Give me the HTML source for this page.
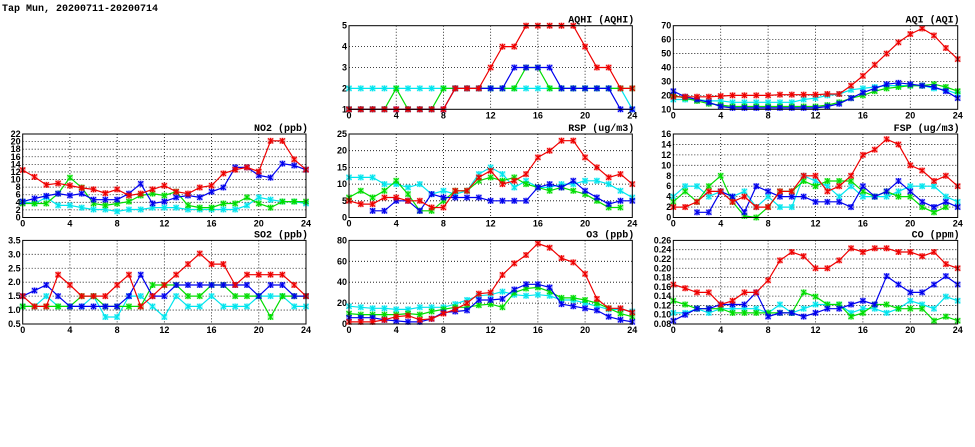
<!DOCTYPE html>
<html><head><meta charset="utf-8"><style>
html,body{margin:0;padding:0;background:#fff;}
svg{display:block;}
text{font-family:"Liberation Sans",sans-serif;font-weight:bold;font-size:9px;fill:#000;}
.t{font-family:"Liberation Mono",monospace;font-size:10px;}
</style></head><body>
<svg id="chart" width="975" height="447" viewBox="0 0 975 447">
<text x="2" y="11" class="t">Tap Mun, 20200711-20200714</text>
</svg>
<script>
const hours = [0,1,2,3,4,5,6,7,8,9,10,11,12,13,14,15,16,17,18,19,20,21,22,23,24];
const seriesColors = ["#00e5ee","#00dd00","#0000ee","#ee0000"];
const N = null;
const aqhiCyan=[2,2,2,2,2,2,2,2,2,2,2,2,2,2,2,2,2,2,2,2,2,2,2,2,1];
const aqhiGreen=[1,1,1,1,2,1,1,1,2,2,2,2,2,2,2,3,3,2,2,2,2,2,2,2,2];
const aqhiBlue=[1,1,1,1,1,1,1,1,1,2,2,2,2,2,3,3,3,3,2,2,2,2,2,1,1];
const aqhiRed=[1,1,1,1,1,1,1,1,1,2,2,2,3,4,4,5,5,5,5,5,4,3,3,2,2];
const aqiCyan=[17,17,17,16,16,15,15,15,15,15,15,17,18,20,21,24,25,26,27,27,27,27,25,24,21];
const aqiGreen=[20,18,16,14,13,12,12,12,12,12,12,12,12,13,15,18,20,23,25,26,27,27,28,26,23];
const aqiBlue=[23,19,17,15,12,11,11,11,11,11,11,11,11,12,14,18,22,25,28,29,28,27,26,23,18];
const aqiRed=[19,19,19,19,19.5,20,20,20,20,20.5,20.5,20.5,20.5,21,21,27,34,42,50,58,64,68,63,54,46];
const no2Cyan=[4.2,3.7,5.3,3.2,3.2,2.6,2.1,2.1,1.6,2.1,2.1,2.6,2.6,2.6,2.1,2.1,2.1,2.1,2.1,3.2,5.3,4.7,4.2,4.2,3.7];
const no2Green=[3.7,3.7,3.7,6.3,10.5,7.9,3.7,3.2,3.7,4.2,5.8,6.3,5.8,6.8,3.2,2.6,2.6,3.7,3.7,5.3,3.7,2.6,4.2,4.2,4.2];
const no2Blue=[4.2,5,5.7,6.3,5.8,6.3,4.7,4.7,4.7,6.3,8.9,3.7,4.2,5.3,5.8,5.3,6.8,7.9,13.2,13.2,11.1,10.5,14.2,13.7,12.6];
const no2Red=[12.5,10.7,8.6,9,8.4,7.8,7.4,6.4,7.4,5.8,6.3,7.4,8.4,6.8,6.3,7.9,8.4,11.6,12.6,13.2,12.1,20.2,20.2,15.3,12.6];
const rspCyan=[12,12,12,10,10,9,10,7,8,7,8,13,15,13,9,11,9,9,10,10,11,11,10,8,6];
const rspGreen=[6,8,6,8,11,7,2,2,5,8,8,11,12,11,12,10,9,8,9,8,7,5,3,3,N];
const rspBlue=[N,N,2,2,5,5,2,7,6,6,6,6,5,5,5,5,9,10,9,11,8,6,4,5,5];
const rspRed=[5,4,4,6,6,5,5,3,3,8,8,12,14,10,11,13,18,20,23,23,18,15,12,13,10];
const fspCyan=[4,6,6,4,5,4,5,2,4,2,2,8,7,6,4,6,4,4,4,5,6,6,6,4,3];
const fspGreen=[3,5,3,6,8,3,0.3,0,2,5,5,7,6,7,7,7,5,4,5,4,4,2,1,2,N];
const fspBlue=[N,N,1,1,5,4,1,6,5,4,4,4,3,3,3,2,6,4,5,7,5,3,2,3,2];
const fspRed=[2,2,3,5,5,3,4,2,2,5,5,8,8,5,6,8,12,13,15,14,10,9,7,8,6];
const so2Cyan=[1.13,1.13,1.5,1.13,1.13,1.13,1.5,0.75,0.75,1.5,1.5,1.13,0.75,1.5,1.13,1.13,1.5,1.13,1.13,1.13,1.5,1.5,1.5,1.13,1.13];
const so2Green=[1.13,1.13,1.13,1.13,1.13,1.5,1.5,1.13,1.13,1.13,1.13,1.9,1.9,1.9,1.5,1.5,1.9,1.9,1.5,1.5,1.5,0.75,1.5,1.5,1.5];
const so2Blue=[1.5,1.7,1.9,1.5,1.13,1.13,1.13,1.13,1.13,1.5,2.27,1.5,1.5,1.9,1.9,1.9,1.9,1.9,1.9,1.9,1.5,1.9,1.9,1.5,1.5];
const so2Red=[1.5,1.13,1.13,2.27,1.9,1.5,1.5,1.5,1.9,2.27,1.13,1.5,1.9,2.27,2.65,3.03,2.65,2.65,1.9,2.27,2.27,2.27,2.27,1.9,1.5];
const o3Cyan=[17,16,15,15,14,14,16,16,16,19,23,27,28,31,28,27,28,27,23,23,20,17,14,14,12];
const o3Green=[10,9,9,9,9,10,9,12,14,16,16,18,19,16,30,34,35,31,25,25,23,20,15,10,7];
const o3Blue=[6,6,6,4,3,2,2,5,11,12,13,23,23,24,33,38,38,35,19,17,15,13,7,4,2];
const o3Red=[2,2,2,4,7,8,4,5,10,14,20,29,30,47,58,66,77,73,63,59,48,24,15,15,11];
const coCyan=[.104,.104,.113,.104,.113,.113,.113,.113,.104,.122,.104,.113,.122,.122,.122,.104,.113,.113,.104,.113,.13,.122,.113,.139,.13];
const coGreen=[.13,.122,.113,.113,.113,.104,.104,.104,.104,.104,.104,.148,.139,.122,.122,.096,.104,.122,.122,.113,.113,.113,.087,.096,.087];
const coBlue=[.087,.1,.113,.113,.122,.122,.122,.148,.096,.104,.104,.096,.104,.113,.113,.122,.13,.122,.183,.165,.148,.148,.165,.183,.165];
const coRed=[.165,.157,.148,.148,.122,.13,.148,.148,.174,.217,.235,.226,.2,.2,.217,.243,.235,.243,.243,.235,.235,.226,.235,.209,.2];
const xTicks=[0,4,8,12,16,20,24];
const aqhiTicks=[1,2,3,4,5];
const aqiTicks=[10,20,30,40,50,60,70];
const no2Ticks=[0,2,4,6,8,10,12,14,16,18,20,22];
const rspTicks=[0,5,10,15,20,25];
const fspTicks=[0,2,4,6,8,10,12,14,16];
const so2Ticks=[0.5,1.0,1.5,2.0,2.5,3.0,3.5];
const o3Ticks=[0,20,40,60,80];
const coTicks=[0.08,0.10,0.12,0.14,0.16,0.18,0.20,0.22,0.24,0.26];

const svg=document.getElementById('chart');
const NS='http://www.w3.org/2000/svg';
function mk(tag,attrs,parent){const e=document.createElementNS(NS,tag);for(const k in attrs)e.setAttribute(k,attrs[k]);(parent||svg).appendChild(e);return e;}
const cols=[[22.7,306],[349,632.3],[673.3,957.7]];
const rows=[[25.7,109.3],[134,217.5],[240.4,324]];
const panels=[
 {name:'aqhi',title:'AQHI (AQHI)',c:1,r:0,ticks:aqhiTicks,dec:0,s:[aqhiCyan,aqhiGreen,aqhiBlue,aqhiRed]},
 {name:'aqi',title:'AQI (AQI)',c:2,r:0,ticks:aqiTicks,dec:0,s:[aqiCyan,aqiGreen,aqiBlue,aqiRed]},
 {name:'no2',title:'NO2 (ppb)',c:0,r:1,ticks:no2Ticks,dec:0,s:[no2Cyan,no2Green,no2Blue,no2Red]},
 {name:'rsp',title:'RSP (ug/m3)',c:1,r:1,ticks:rspTicks,dec:0,s:[rspCyan,rspGreen,rspBlue,rspRed]},
 {name:'fsp',title:'FSP (ug/m3)',c:2,r:1,ticks:fspTicks,dec:0,s:[fspCyan,fspGreen,fspBlue,fspRed]},
 {name:'so2',title:'SO2 (ppb)',c:0,r:2,ticks:so2Ticks,dec:1,s:[so2Cyan,so2Green,so2Blue,so2Red]},
 {name:'o3',title:'O3 (ppb)',c:1,r:2,ticks:o3Ticks,dec:0,s:[o3Cyan,o3Green,o3Blue,o3Red]},
 {name:'co',title:'CO (ppm)',c:2,r:2,ticks:coTicks,dec:2,s:[coCyan,coGreen,coBlue,coRed]}
];
const sNames=['cyan','green','blue','red'];
panels.forEach(p=>{
 const [x0,x1]=cols[p.c],[y0,y1]=rows[p.r];
 const tmin=p.ticks[0],tmax=p.ticks[p.ticks.length-1];
 const xs=v=>x0+(v-0)/(24-0)*(x1-x0);
 const ys=v=>y1-(v-tmin)/(tmax-tmin)*(y1-y0);
 const g=mk('g',{});
 
 
 const t=mk('text',{x:x1+2,y:y0-3,'text-anchor':'end',class:'t'},g);
 t.textContent=p.title;
 
 
 xTicks.forEach(v=>{
  if(v>0&&v<24){const l=mk('line',{x1:xs(v),x2:xs(v),y1:y0,y2:y1,stroke:'#000','stroke-width':0.8,'stroke-dasharray':'1,2'},g);
   }
  const tx=mk('text',{x:xs(v),y:y1+9,'text-anchor':'middle'},g);tx.textContent=v;
  
  
 });
 p.ticks.forEach(v=>{
  if(v>tmin&&v<tmax){const l=mk('line',{x1:x0,x2:x1,y1:ys(v),y2:ys(v),stroke:'#000','stroke-width':0.8,'stroke-dasharray':'1,2'},g);
   }
  const ty=mk('text',{x:x0-2,y:ys(v)+3,'text-anchor':'end'},g);ty.textContent=v.toFixed(p.dec);
  
  
 });
 p.s.forEach((arr,si)=>{
  const col=seriesColors[si];
  let d='',pen=false;
  arr.forEach((v,i)=>{if(v===null){pen=false;return;}d+=(pen?'L':'M')+xs(hours[i]).toFixed(1)+','+ys(v).toFixed(1);pen=true;});
  const path=mk('path',{d:d,fill:'none',stroke:col,'stroke-width':1.2},g);
  
  
  arr.forEach((v,i)=>{
   if(v===null)return;
   const cx=xs(hours[i]),cy=ys(v);
   const m=mk('g',{},g);
   
   
   mk('rect',{x:cx-3,y:cy-3,width:6,height:6,fill:col,'fill-opacity':0.35},m);
   mk('path',{d:`M${cx-2.5},${cy-2.5}L${cx+2.5},${cy+2.5}M${cx-2.5},${cy+2.5}L${cx+2.5},${cy-2.5}M${cx},${cy-3}L${cx},${cy+3}`,stroke:col,'stroke-width':1.1},m);
  });
 });
 const fr=mk('rect',{x:x0,y:y0,width:x1-x0,height:y1-y0,fill:'none',stroke:'#000','stroke-width':1},g);
 
 
});
</script>
</body></html>
